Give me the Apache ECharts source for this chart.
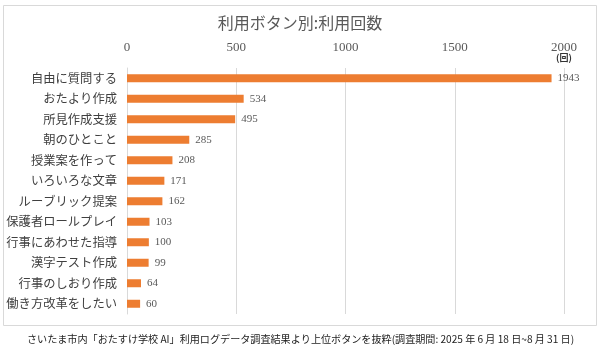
<!DOCTYPE html>
<html><head><meta charset="utf-8">
<script src="https://cdn.jsdelivr.net/npm/echarts@6/dist/echarts.min.js"></script>
<style>html,body{margin:0;padding:0;background:#fff}#c{width:600px;height:359px}</style>
</head><body><div id="c"></div>
<script>
const categories = ["自由に質問する","おたより作成","所見作成支援","朝のひとこと","授業案を作って","いろいろな文章","ルーブリック提案","保護者ロールプレイ","行事にあわせた指導","漢字テスト作成","行事のしおり作成","働き方改革をしたい"];
const values = [1943,534,495,285,208,171,162,103,100,99,64,60];
const titleText = "利用ボタン別:利用回数";
const unitText = "(回)";
const noteText = "さいたま市内「おたすけ学校 AI」利用ログデータ調査結果より上位ボタンを抜粋(調査期間: 2025 年 6 月 18 日~8 月 31 日)";
const chart = echarts.init(document.getElementById('c'));
chart.setOption({
  animation:false,
  backgroundColor:'#fff',
  graphic:[
    {type:'rect',shape:{x:3.5,y:5.5,width:593,height:320},style:{fill:'none',stroke:'#d9d9d9',lineWidth:1}},
    {type:'text',left:27,top:334,style:{text:noteText,font:'10.1px "Noto Sans CJK JP"',fill:'#222'}},
    {type:'text',left:556,top:53,style:{text:unitText,font:'bold 9px "Noto Sans CJK JP"',fill:'#333'}}
  ],
  title:{text:titleText,left:'center',top:10,textStyle:{fontFamily:'Noto Sans CJK JP',fontSize:16,fontWeight:'normal',color:'#595959'}},
  grid:{left:127,right:36,top:68,bottom:45,containLabel:false},
  xAxis:{type:'value',position:'top',min:0,max:2000,interval:500,
    axisLabel:{fontFamily:'Liberation Serif',fontSize:13,color:'#595959',margin:14,formatter:function(v){return String(v);}},
    axisLine:{show:false},axisTick:{show:false},
    splitLine:{lineStyle:{color:'#d9d9d9'}}},
  yAxis:{type:'category',data:categories,inverse:true,
    axisLabel:{fontFamily:'Noto Sans CJK JP',fontSize:12.3,color:'#404040',margin:10},
    axisLine:{lineStyle:{color:'#d9d9d9'}},axisTick:{show:false}},
  series:[{type:'bar',data:values,barWidth:8,itemStyle:{color:'#ED7D31'},
    label:{show:true,position:'right',distance:6,fontFamily:'Liberation Serif',fontSize:11,color:'#595959'}}]
});
</script></body></html>
